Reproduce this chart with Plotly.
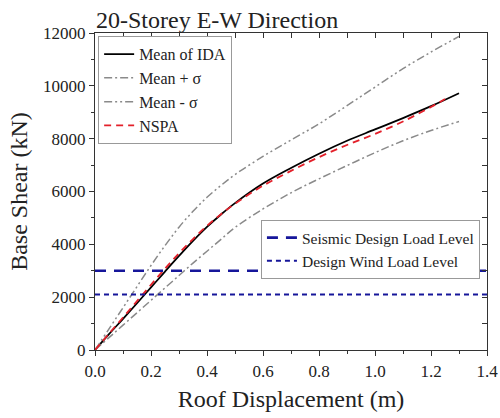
import plotly.graph_objects as go

# ---- data ----
disp = [0, 0.05, 0.1, 0.15, 0.2, 0.25, 0.3, 0.35, 0.4, 0.45, 0.5, 0.6, 0.7, 0.8, 0.9, 1.0, 1.1, 1.2, 1.3]
mean_ida = [0, 600, 1180, 1770, 2370, 2970, 3560, 4130, 4660, 5130, 5560, 6300, 6890, 7430, 7920, 8350, 8780, 9230, 9720]
mean_plus = [0, 470, 940, 1410, 1880, 2350, 2820, 3290, 3740, 4190, 4640, 5340, 5950, 6480, 6980, 7470, 7920, 8310, 8650]
mean_minus = [0, 800, 1600, 2400, 3200, 3950, 4650, 5250, 5780, 6230, 6640, 7330, 7950, 8560, 9250, 9950, 10650, 11280, 11870]
nspa_disp = [0, 0.05, 0.1, 0.15, 0.2, 0.25, 0.3, 0.35, 0.4, 0.45, 0.5, 0.6, 0.7, 0.8, 0.9, 1.0, 1.1, 1.2, 1.25]
nspa = [0, 620, 1230, 1850, 2470, 3080, 3660, 4200, 4700, 5140, 5540, 6220, 6780, 7300, 7760, 8180, 8650, 9200, 9500]
seismic_level = 3000
wind_level = 2100
x_range = [0, 1.4]
y_range = [0, 12000]

FONT = "Liberation Serif"
BLUE = "#16169a"
GRAY = "#8a8a8a"

fig = go.Figure()
fig.add_trace(go.Scatter(x=disp, y=mean_ida, mode="lines", name="Mean of IDA",
                         line=dict(color="black", width=1.8, shape="spline"), legend="legend"))
fig.add_trace(go.Scatter(x=disp, y=mean_plus, mode="lines", name="Mean + σ",
                         line=dict(color=GRAY, width=1.5, dash="8px,3px,2px,3px", shape="spline"), legend="legend"))
fig.add_trace(go.Scatter(x=disp, y=mean_minus, mode="lines", name="Mean - σ",
                         line=dict(color=GRAY, width=1.5, dash="8px,3px,2px,3px,2px,3px", shape="spline"), legend="legend"))
fig.add_trace(go.Scatter(x=nspa_disp, y=nspa, mode="lines", name="NSPA",
                         line=dict(color="#e3202a", width=1.8, dash="7px,5px", shape="spline"), legend="legend"))
fig.add_trace(go.Scatter(x=x_range, y=[seismic_level, seismic_level], mode="lines",
                         name="Seismic Design Load Level",
                         line=dict(color=BLUE, width=2.6, dash="11px,8px"), legend="legend2"))
fig.add_trace(go.Scatter(x=x_range, y=[wind_level, wind_level], mode="lines",
                         name="Design Wind Load Level",
                         line=dict(color=BLUE, width=2.2, dash="5px,4px"), legend="legend2"))

fig.update_layout(
    width=500, height=418,
    margin=dict(l=95, r=13, t=33, b=68, autoexpand=False),
    plot_bgcolor="white", paper_bgcolor="white",
    font=dict(family=FONT, color="#222222", size=16),
    xaxis=dict(range=x_range, dtick=0.2, tickformat=".1f", showgrid=False, zeroline=False,
               showline=True, linecolor="#333", linewidth=1.2, mirror=True, automargin=False,
               ticks="outside", ticklen=5, tickcolor="#333",
               minor=dict(dtick=0.1, ticks="outside", ticklen=3, tickcolor="#333"),
               tickfont=dict(size=17, family=FONT),
               title=dict(text="Roof Displacement (m)", font=dict(size=24, family=FONT), standoff=10)),
    yaxis=dict(range=y_range, dtick=2000, tickformat="d", showgrid=False, zeroline=False,
               showline=True, linecolor="#333", linewidth=1.2, mirror=True, automargin=False,
               ticks="outside", ticklen=5, tickcolor="#333",
               minor=dict(dtick=1000, ticks="outside", ticklen=3, tickcolor="#333"),
               tickfont=dict(size=17, family=FONT),
               title=dict(text="Base Shear (kN)", font=dict(size=24, family=FONT), standoff=8)),
    xaxis2=dict(range=x_range, overlaying="x", side="top", dtick=0.1, ticks="inside", ticklen=5,
                tickcolor="#333", showticklabels=False, showgrid=False, zeroline=False, automargin=False),
    yaxis2=dict(range=y_range, overlaying="y", side="right", dtick=1000, ticks="inside", ticklen=5,
                tickcolor="#333", showticklabels=False, showgrid=False, zeroline=False, automargin=False),
    legend=dict(x=0.008, y=0.99, xanchor="left", yanchor="top", bgcolor="white",
                bordercolor="#999", borderwidth=1, font=dict(size=16, family=FONT),
                tracegroupgap=0, itemwidth=30),
    legend2=dict(x=0.982, y=0.41, xanchor="right", yanchor="top", bgcolor="white",
                 bordercolor="#999", borderwidth=1, font=dict(size=15.5, family=FONT),
                 tracegroupgap=0, itemwidth=30),
    annotations=[dict(text="20-Storey E-W Direction", xref="paper", yref="paper", x=0, y=1,
                      xanchor="left", yanchor="bottom", showarrow=False, yshift=-2, xshift=-1,
                      font=dict(size=24, family=FONT, color="#222"))],
)
# invisible trace to activate top/right tick axes
fig.add_trace(go.Scatter(x=[None], y=[None], xaxis="x2", yaxis="y2", showlegend=False, hoverinfo="skip"))

fig.write_html("out.html", config={"displayModeBar": False},
               post_script="document.body.style.margin='0';")
